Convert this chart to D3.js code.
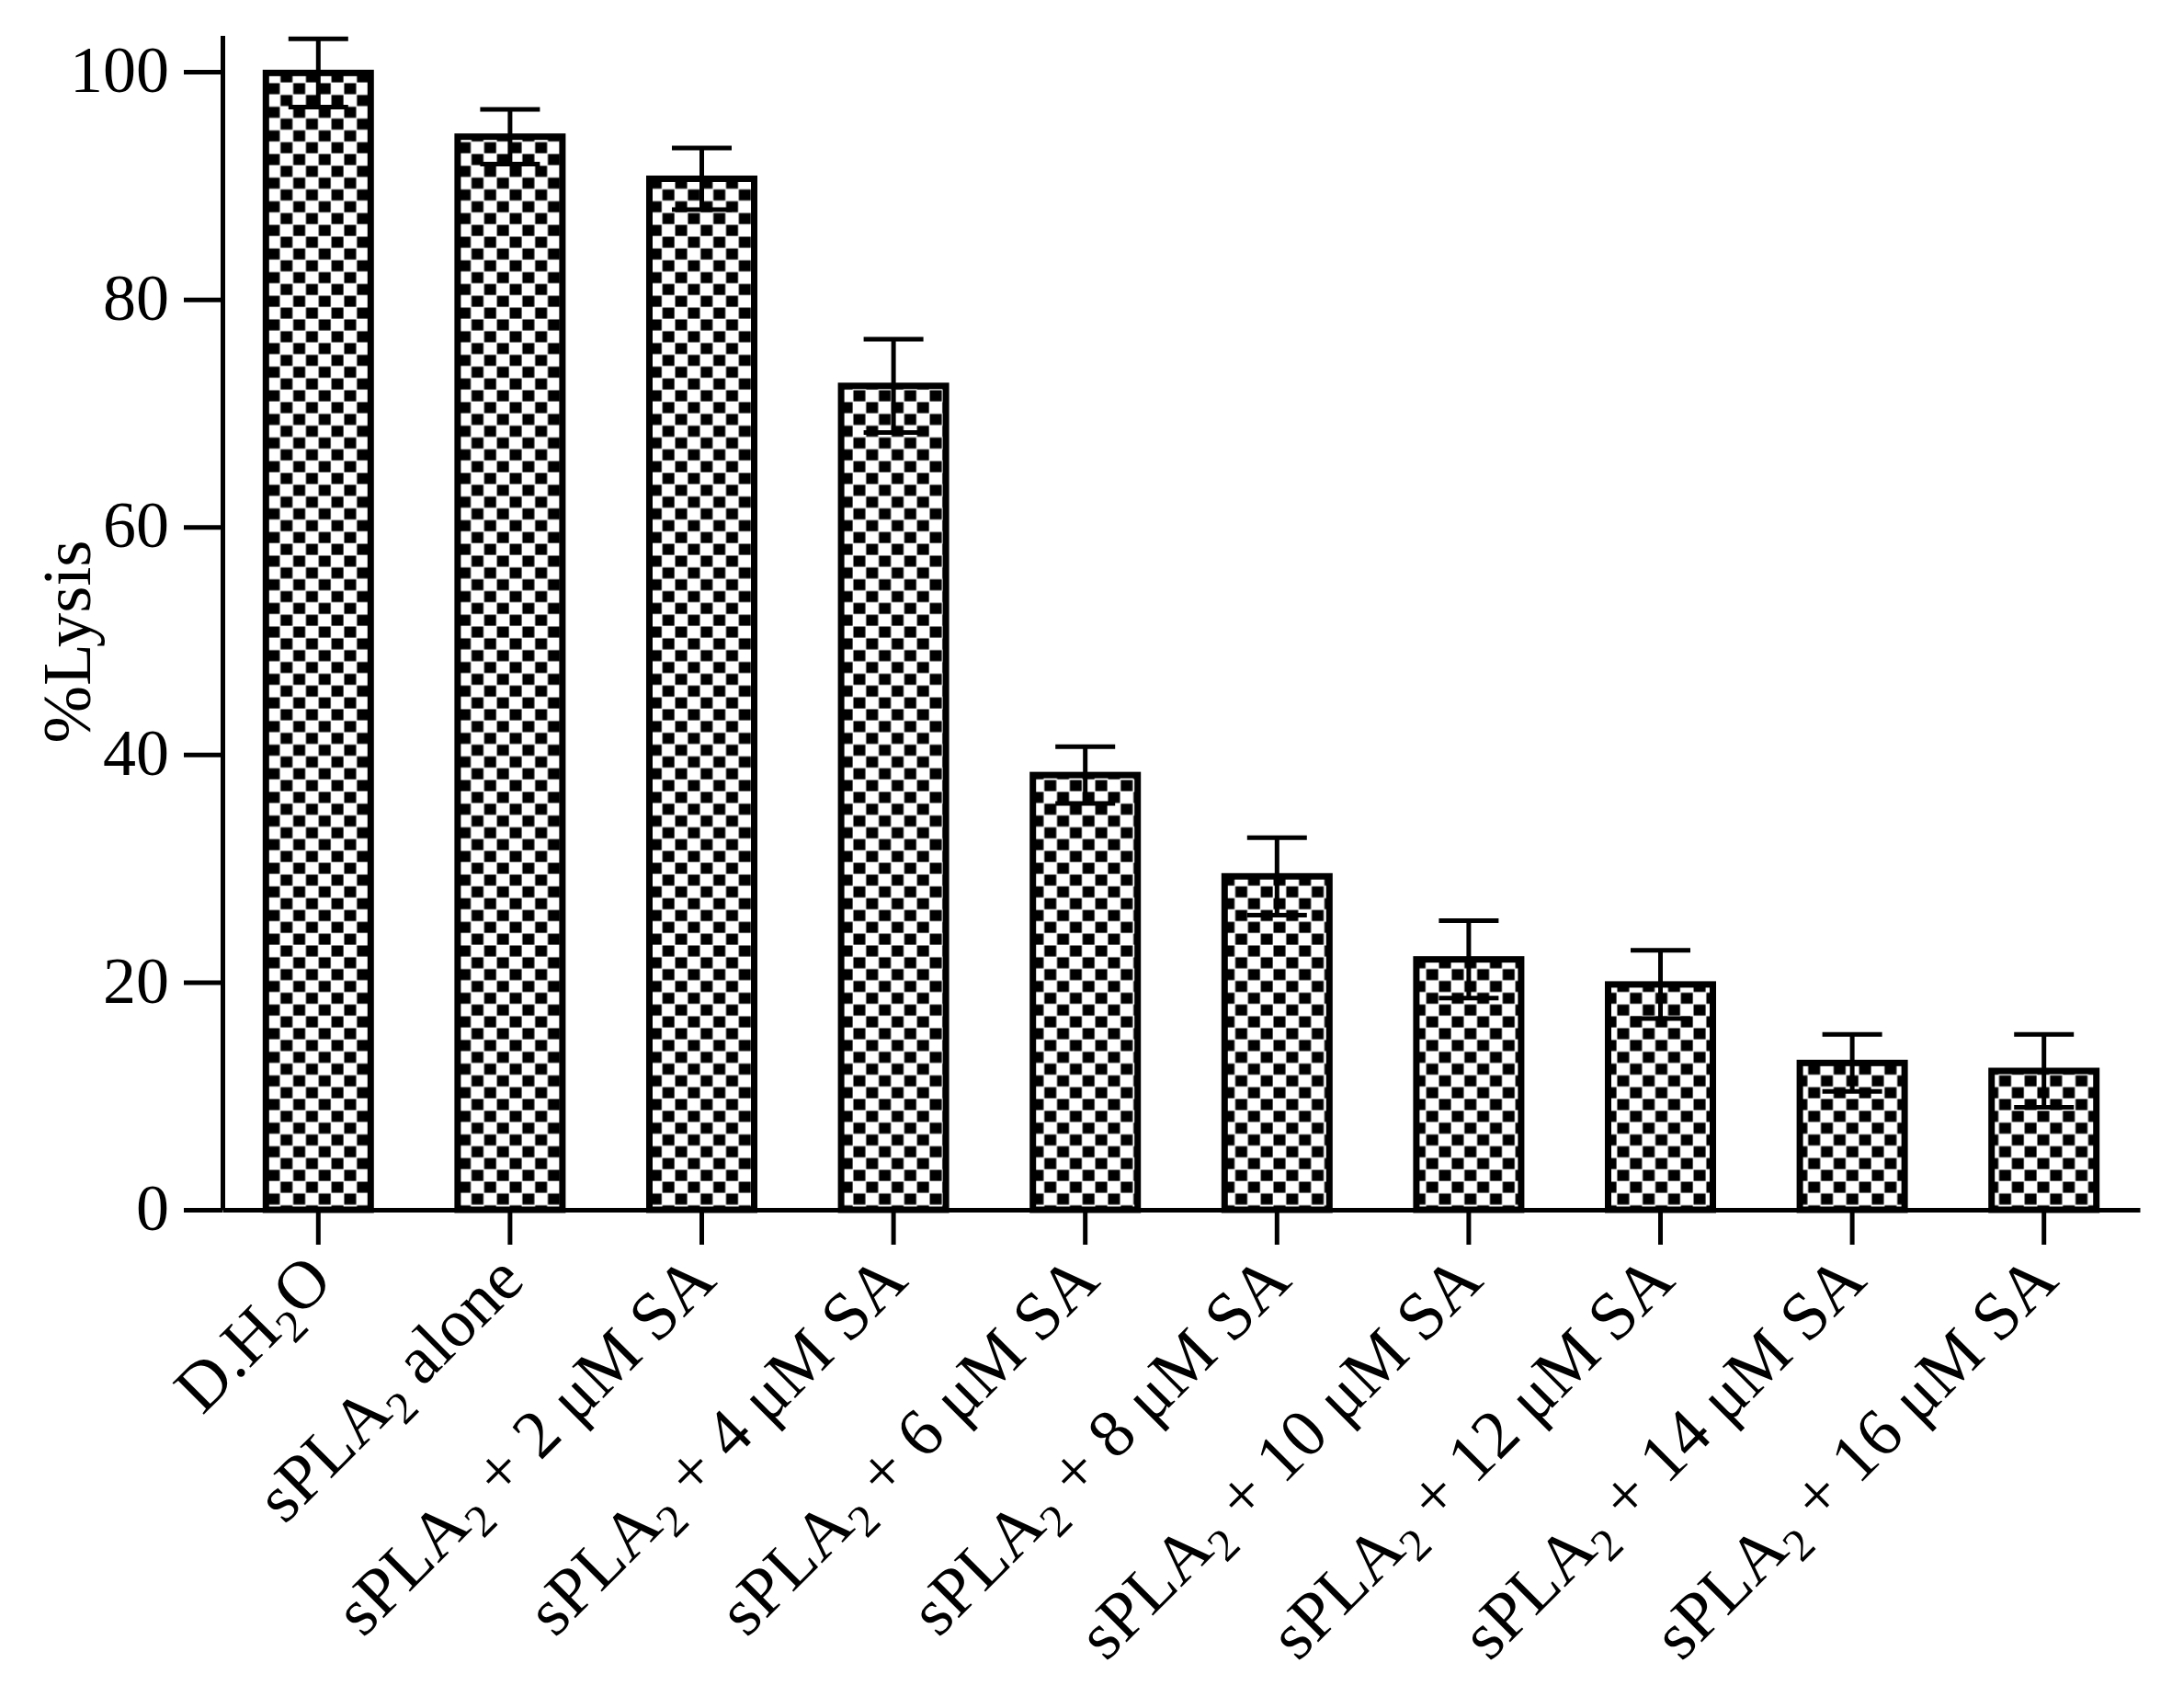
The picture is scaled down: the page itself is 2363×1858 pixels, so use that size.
<!DOCTYPE html>
<html lang="en">
<head>
	<meta charset="UTF-8">
	<title>%Lysis bar chart</title>
	<script src="https://cdnjs.cloudflare.com/ajax/libs/d3/7.8.5/d3.min.js"></script>
	<style>
		body { margin: 0; background: #fff; }
		svg { display: block; }
	</style>
</head>
<body>
	<div id="chart"></div>

	<script type="text/javascript">

	// Data
	var categories = [
		"D.H2O",
		"sPLA2 alone",
		"sPLA2 + 2 μM SA",
		"sPLA2 + 4 μM SA",
		"sPLA2 + 6 μM SA",
		"sPLA2 + 8 μM SA",
		"sPLA2 + 10 μM SA",
		"sPLA2 + 12 μM SA",
		"sPLA2 + 14 μM SA",
		"sPLA2 + 16 μM SA"
	];
	var lysis = [99.9, 94.3, 90.6, 72.4, 38.2, 29.3, 22.0, 19.8, 12.9, 12.2];
	var errors = [3.0, 2.4, 2.7, 4.1, 2.5, 3.4, 3.4, 3.0, 2.5, 3.2];
	var yTicks = [0, 20, 40, 60, 80, 100];
	var yTitle = "%Lysis";

	var width = 2363;
	var height = 1858;
	var fontFamily = "'Liberation Serif', 'Times New Roman', serif";

	var svg = d3.select("#chart")
		.append("svg")
		.attr("width", width)
		.attr("height", height);

	svg.append("rect")
		.attr("width", width)
		.attr("height", height)
		.attr("fill", "#fff");

	// checker fill used by the bars
	var defs = svg.append("defs");
	var pat = defs.append("pattern")
		.attr("id", "checker")
		.attr("patternUnits", "userSpaceOnUse")
		.attr("width", 27.7)
		.attr("height", 25.7);
	pat.append("rect").attr("width", 27.7).attr("height", 25.7).attr("fill", "#fff");
	pat.append("rect").attr("x", 0.5).attr("y", 0.5).attr("width", 13).attr("height", 12).attr("fill", "#000");
	pat.append("rect").attr("x", 14.35).attr("y", 13.35).attr("width", 13).attr("height", 12).attr("fill", "#000");

	// Scales
	var x = d3.scaleBand()
		.domain(categories)
		.range([242, 2328])
		.paddingInner(0.4535)
		.paddingOuter(0.2267);

	var y = d3.scaleLinear()
		.domain([0, 103.2])
		.range([1316, 38.5]);

	var g = svg.append("g");

	// Bars
	g.selectAll("rect.bar")
		.data(lysis)
		.enter()
		.append("rect")
		.attr("class", "bar")
		.attr("x", function(d, i) { return x(categories[i]); })
		.attr("y", function(d) { return y(d); })
		.attr("width", x.bandwidth())
		.attr("height", function(d) { return y(0) - y(d); })
		.attr("fill", "url(#checker)")
		.attr("stroke", "#000")
		.attr("stroke-width", 7);

	// Error bars
	var capW = 65;
	var eb = g.selectAll("g.err")
		.data(lysis)
		.enter()
		.append("g")
		.attr("class", "err")
		.attr("stroke", "#000")
		.attr("stroke-width", 5);

	eb.append("line")
		.attr("x1", function(d, i) { return x(categories[i]) + x.bandwidth() / 2; })
		.attr("x2", function(d, i) { return x(categories[i]) + x.bandwidth() / 2; })
		.attr("y1", function(d, i) { return y(d - errors[i]); })
		.attr("y2", function(d, i) { return y(d + errors[i]); });

	eb.append("line")
		.attr("x1", function(d, i) { return x(categories[i]) + x.bandwidth() / 2 - capW / 2; })
		.attr("x2", function(d, i) { return x(categories[i]) + x.bandwidth() / 2 + capW / 2; })
		.attr("y1", function(d, i) { return y(d + errors[i]); })
		.attr("y2", function(d, i) { return y(d + errors[i]); });

	eb.append("line")
		.attr("x1", function(d, i) { return x(categories[i]) + x.bandwidth() / 2 - capW / 2; })
		.attr("x2", function(d, i) { return x(categories[i]) + x.bandwidth() / 2 + capW / 2; })
		.attr("y1", function(d, i) { return y(d - errors[i]); })
		.attr("y2", function(d, i) { return y(d - errors[i]); });

	// Y axis
	var yAxis = svg.append("g")
		.attr("transform", "translate(242,0)")
		.call(d3.axisLeft(y).tickValues(yTicks).tickSize(42).tickSizeOuter(0).tickPadding(16));

	// X axis
	var xAxis = svg.append("g")
		.attr("transform", "translate(0," + y(0) + ")")
		.call(d3.axisBottom(x).tickSize(38).tickSizeOuter(0));

	[yAxis, xAxis].forEach(function(ax) {
		ax.selectAll("path, line")
			.attr("stroke", "#000")
			.attr("stroke-width", 5);
	});

	yAxis.selectAll("text")
		.attr("font-family", fontFamily)
		.attr("font-size", 72)
		.attr("fill", "#000")
		.attr("dy", "0.3em");

	// x labels with subscript 2, rotated 45 degrees
	xAxis.selectAll("text")
		.attr("font-family", fontFamily)
		.attr("font-size", 74)
		.attr("fill", "#000")
		.attr("text-anchor", "end")
		.attr("x", 0)
		.attr("y", 0)
		.attr("dy", 0)
		.attr("transform", "translate(18,80) rotate(-45)")
		.each(function(d) {
			var m = d.match(/^(D\.H|sPLA)2(.*)$/);
			var t = d3.select(this).text(null);
			t.append("tspan").text(m[1]);
			t.append("tspan").attr("font-size", 50).attr("dy", 16).text("2");
			t.append("tspan").attr("dy", -16).text(m[2]);
		});

	// Y title
	svg.append("text")
		.attr("transform", "translate(98,698) rotate(-90)")
		.attr("text-anchor", "middle")
		.attr("font-family", fontFamily)
		.attr("font-size", 75)
		.attr("fill", "#000")
		.text(yTitle);

	</script>
</body>
</html>
